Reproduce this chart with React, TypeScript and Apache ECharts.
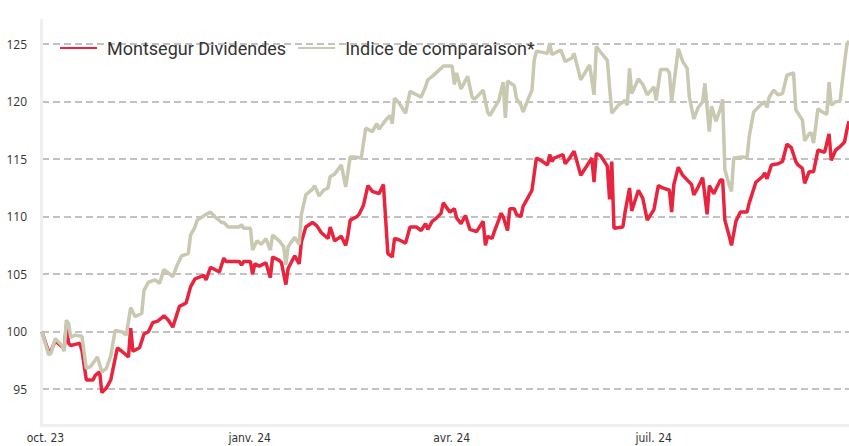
import React, { useEffect, useRef } from "react";
import * as echarts from "echarts";

// x values are day offsets from 29 Sep 2023
const startDate = "2023-09-29";
const lastDay = 364;
const tickDays = [2, 94, 185, 276];
const tickLabels = ["oct. 23", "janv. 24", "avr. 24", "juil. 24"];
const seriesNames = ["Montsegur Dividendes", "Indice de comparaison*"];

const montsegurDays = [0,3,4,6,9,10,11,12,13,15,17,18,20,23,24,26,27,29,31,34,36,39,40,41,44,46,48,50,52,54,55,57,59,62,65,67,69,73,74,76,79,80,82,83,89,90,91,94,95,96,98,101,103,104,107,108,110,111,114,116,117,119,122,124,126,129,130,132,135,137,138,139,142,143,145,147,149,152,154,156,158,159,161,164,166,169,171,173,174,176,178,180,181,184,186,187,189,191,193,196,199,200,201,203,204,206,207,208,210,211,213,214,216,217,219,221,223,225,228,229,230,231,235,236,238,240,243,246,248,249,250,252,255,256,257,258,262,263,265,266,269,271,273,276,278,280,283,284,285,287,289,291,293,294,296,298,300,301,303,306,307,308,310,311,313,315,318,319,322,325,326,327,329,332,334,336,338,340,341,343,344,346,348,350,353,355,356,358,360,362,363,364];
const montsegurValues = [100.0,98.2,98.3,99.2,98.7,98.5,100.6,99.0,98.8,98.9,99.0,98.4,95.8,95.8,96.2,96.5,94.7,95.1,95.8,98.6,98.3,97.8,100.3,98.3,98.6,99.8,100.0,100.8,100.9,101.2,101.4,101.0,100.4,102.2,102.5,103.9,104.6,104.9,104.5,105.6,105.3,105.2,106.4,106.1,106.1,105.8,106.1,106.1,105.0,105.9,105.7,106.0,104.7,106.5,106.2,106.0,104.1,105.5,106.6,105.9,107.8,109.1,109.5,109.2,108.6,108.1,109.1,107.9,108.3,107.5,108.4,109.7,110.0,110.2,111.0,112.7,112.2,112.0,112.8,106.8,106.5,108.1,108.0,107.7,109.1,109.1,108.8,109.4,108.9,109.6,109.9,110.3,111.2,110.4,110.7,109.9,109.4,110.1,108.9,108.7,109.6,107.5,108.3,108.1,108.7,109.7,110.3,110.0,108.8,110.7,110.7,110.2,110.0,110.9,111.6,112.3,115.1,114.9,114.5,115.4,114.8,115.1,115.4,114.6,115.1,115.7,113.6,114.5,115.1,113.0,115.5,115.3,114.4,111.5,114.8,109.0,109.1,110.4,112.5,110.5,112.3,111.6,109.7,110.6,112.7,112.5,112.3,110.4,112.8,114.3,113.6,113.2,112.8,111.9,112.6,113.4,110.2,112.7,112.0,113.2,113.2,109.7,108.3,107.5,109.6,110.4,110.4,111.2,113.0,113.5,113.8,113.3,114.5,114.6,114.8,116.3,116.0,114.8,114.5,114.2,112.9,113.9,113.9,115.8,115.6,117.2,114.9,115.8,116.1,116.5,117.5,118.3];

const indiceDays = [0,3,4,6,9,10,11,12,13,15,18,20,22,25,27,29,31,33,36,38,40,42,45,46,48,51,53,55,59,61,63,66,67,69,70,74,76,78,81,82,84,89,90,91,94,95,97,99,101,103,104,107,109,110,111,114,116,117,119,122,123,125,127,129,130,132,135,137,139,141,144,146,149,151,152,155,157,158,159,161,164,166,169,171,173,174,176,180,181,185,186,187,189,192,194,195,199,201,202,206,208,209,210,213,214,216,217,219,221,222,223,228,229,230,234,236,239,240,243,247,249,250,252,255,257,260,263,264,265,266,269,271,273,276,277,279,282,283,284,287,289,291,292,294,296,298,299,301,302,304,306,307,308,310,311,312,316,318,319,321,324,326,327,328,330,332,334,336,339,340,343,344,346,347,348,350,352,354,355,356,358,360,362,363,364];
const indiceValues = [100.0,98.0,98.1,99.4,98.8,98.3,101.0,100.7,99.5,99.7,99.6,96.8,97.0,97.8,96.5,96.8,97.9,100.1,100.0,99.7,102.1,101.3,101.6,103.6,104.3,104.5,104.2,105.4,104.8,105.8,106.6,106.8,108.4,109.1,109.7,110.2,110.4,110.0,109.5,109.5,109.1,109.1,109.3,109.0,109.0,107.1,107.9,107.6,108.1,107.1,108.4,107.9,107.4,105.8,107.4,108.2,107.6,110.2,111.9,112.4,112.7,111.8,112.3,112.5,113.5,113.7,114.5,112.6,115.2,115.2,115.1,117.7,117.4,118.1,117.6,118.4,118.8,118.1,120.3,119.9,119.0,120.9,120.6,120.4,121.3,121.9,122.2,122.9,123.1,123.1,121.5,122.5,121.1,122.2,120.4,120.2,121.0,119.1,118.8,120.1,121.7,118.6,121.8,121.4,120.3,119.7,119.1,120.1,121.0,123.6,124.4,124.2,125.1,124.1,124.5,123.5,123.8,124.2,121.9,123.2,120.6,124.8,124.3,123.6,119.0,119.7,120.1,119.7,122.9,120.7,122.0,121.5,120.6,121.3,120.1,122.8,122.8,122.5,120.0,124.6,123.5,122.9,120.4,118.5,119.5,120.0,121.6,117.4,119.6,118.3,119.4,120.2,114.1,112.7,112.2,115.1,115.2,115.1,117.0,119.1,119.7,120.0,119.5,120.4,121.0,120.6,120.7,122.3,122.5,119.3,118.4,116.6,117.2,117.3,116.4,119.4,119.1,118.9,121.7,119.7,120.0,120.1,123.4,124.9,125.3];

const yMin = 90;
const yMax = 130;
const yStep = 5;
const yLabelMin = 95;
const yLabelMax = 125;

function pairs(days: number[], values: number[]) {
  return days.map((d, i) => [d, values[i]]);
}

export default function App() {
  const ref = useRef<HTMLDivElement>(null);
  useEffect(() => {
    if (!ref.current) return;
    const chart = echarts.init(ref.current, undefined, { renderer: "svg" });
    const frameColor = "#efefef";
    chart.setOption({
      animation: false,
      backgroundColor: "#ffffff",
      grid: [
        { left: 42, right: 0, top: -13.3, height: 460, containLabel: false, outerBoundsMode: "none" },
        { left: 41, right: 0, top: 20, height: 405, containLabel: false, outerBoundsMode: "none" },
      ],
      legend: {
        left: 55,
        top: 34,
        icon: "rect",
        itemWidth: 37,
        itemHeight: 2,
        itemGap: 12,
        data: seriesNames,
        textStyle: {
          fontFamily: "Roboto",
          fontSize: 18,
          color: "#333333",
          padding: [0, 0, 0, 5],
        },
      },
      xAxis: [
        { type: "value", gridIndex: 0, min: 0, max: lastDay, show: false },
        {
          type: "value",
          gridIndex: 1,
          min: 0,
          max: lastDay,
          axisLine: { show: true, lineStyle: { color: frameColor, width: 3 } },
          axisTick: { show: false },
          splitLine: { show: false },
          axisLabel: {
            customValues: tickDays,
            margin: 7,
            fontFamily: "'Liberation Sans Narrow', 'DejaVu Sans Condensed', sans-serif",
            fontSize: 12,
            color: "#333333",
            formatter: (v: number) => {
              const i = tickDays.indexOf(Math.round(v));
              return i >= 0 ? tickLabels[i] : "";
            },
          },
        },
      ],
      yAxis: [
        {
          type: "value",
          gridIndex: 0,
          min: yMin,
          max: yMax,
          interval: yStep,
          axisLine: { show: false },
          axisTick: { show: false },
          axisLabel: {
            margin: 15,
            fontFamily: "'Open Sans', sans-serif",
            fontSize: 12,
            color: "#333333",
            formatter: (v: number) => (v >= yLabelMin && v <= yLabelMax ? String(v) : ""),
          },
          splitLine: {
            show: true,
            lineStyle: { color: "#c2c2c2", width: 2, type: [7, 4] },
          },
        },
        {
          type: "value",
          gridIndex: 1,
          min: 0,
          max: 1,
          axisLine: { show: true, lineStyle: { color: frameColor, width: 3 } },
          axisTick: { show: false },
          axisLabel: { show: false },
          splitLine: { show: false },
        },
      ],
      series: [
        {
          name: seriesNames[0],
          type: "line",
          xAxisIndex: 0,
          yAxisIndex: 0,
          data: pairs(montsegurDays, montsegurValues),
          symbol: "none",
          color: "#e8253f",
          lineStyle: { width: 3.5, color: "#e8253f" },
          z: 3,
        },
        {
          name: seriesNames[1],
          type: "line",
          xAxisIndex: 0,
          yAxisIndex: 0,
          data: pairs(indiceDays, indiceValues),
          symbol: "none",
          color: "#c9c8b1",
          lineStyle: { width: 3.5, color: "#c9c8b1" },
          z: 4,
        },
      ],
    });
    return () => chart.dispose();
  }, []);
  return (
    <div
      ref={ref}
      data-start={startDate}
      style={{ position: "fixed", left: 0, top: 0, width: 849, height: 446, background: "#fff" }}
    />
  );
}
